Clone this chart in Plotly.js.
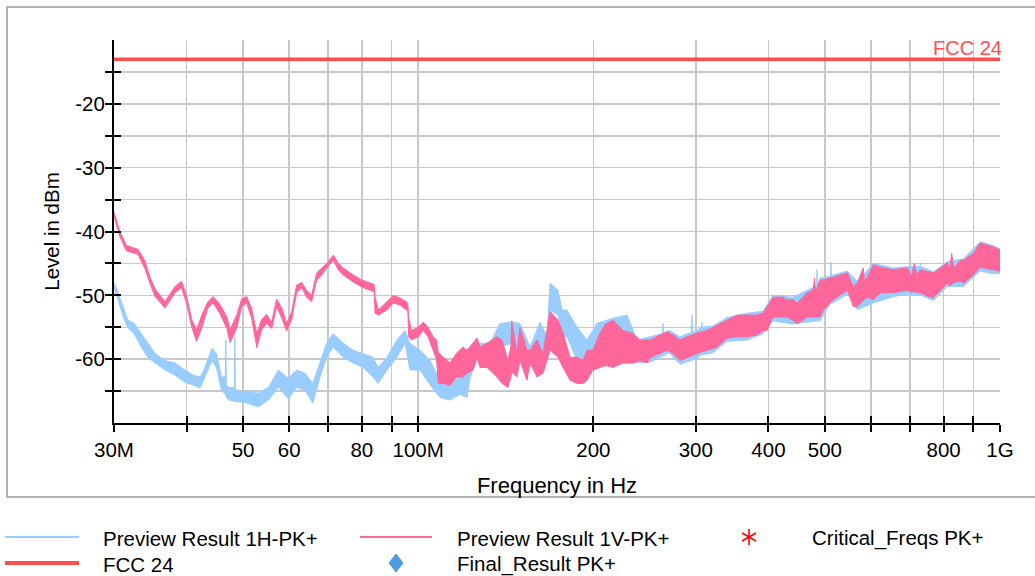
<!DOCTYPE html>
<html>
<head>
<meta charset="utf-8">
<script src="https://cdn.plot.ly/plotly-3.0.1.min.js"></script>
<style>
html,body{margin:0;padding:0;background:#fff;}
#chart{width:1035px;height:576px;}
</style>
</head>
<body>
<div id="chart"></div>
<script>
// ---------- data (frequency in MHz, level in dBm) ----------
// Preview Result 1H-PK+ : envelope of the measured band (upper / lower edge)
const freqH = [30.0,30.5,31.1,31.7,32.5,33.4,34.3,35.3,36.7,38.2,39.7,41.1,42.2,43.0,44.2,45.0,45.9,46.6,46.7,46.8,47.2,48.3,48.4,48.5,49.1,51.0,53.1,55.3,57.5,59.8,61.8,63.9,65.9,67.8,69.6,71.4,74.3,77.3,80.4,83.6,85.3,88.4,91.9,94.9,96.8,100.7,104.8,109.0,113.4,118.0,121.3,122.8,126.2,132.9,138.2,145.0,149.6,155.7,161.9,166.5,168.5,173.9,176.7,180.2,187.5,195.0,202.9,216.2,228.5,237.7,250.0,263.0,263.5,264.0,270.0,281.8,295.0,295.5,296.0,301.4,307.0,307.4,307.8,321.1,339.4,367.4,391.4,407.2,440.7,484.0,484.7,485.4,490.5,511.5,512.3,513.0,516.4,546.7,568.8,606.0,655.9,693.3,729.0,729.9,730.8,768.4,812.0,865.4,924.2,973.0,1000];
const h1Upper = [-48.0,-49.6,-51.8,-53.9,-54.4,-56.0,-57.5,-59.1,-60.2,-60.6,-61.7,-62.5,-62.8,-61.3,-58.3,-59.1,-62.8,-62.8,-57.0,-64.0,-64.4,-64.5,-56.5,-64.8,-64.9,-65.2,-65.3,-64.4,-61.7,-63.0,-61.7,-62.2,-63.8,-60.6,-57.5,-56.0,-57.5,-58.6,-59.1,-59.7,-61.3,-59.7,-57.0,-55.5,-57.5,-58.6,-60.2,-63.3,-63.8,-62.8,-60.5,-59.5,-57.5,-57.5,-54.4,-54.2,-54.4,-58.1,-54.2,-56.5,-48.1,-49.2,-52.3,-52.3,-55.0,-57.0,-54.4,-53.6,-53.1,-57.0,-56.5,-56.0,-54.4,-56.0,-55.5,-56.5,-55.8,-53.1,-55.8,-55.5,-55.0,-54.2,-55.0,-54.8,-53.5,-52.8,-52.5,-50.0,-50.3,-48.5,-46.0,-48.5,-47.3,-47.0,-44.8,-47.0,-46.8,-46.2,-47.8,-45.0,-45.7,-45.5,-45.5,-44.9,-45.5,-46.3,-44.7,-44.3,-41.6,-42.2,-42.7];
const h1Lower = [-48.8,-50.7,-53.4,-55.1,-56.0,-58.1,-59.7,-60.6,-61.7,-62.5,-63.6,-64.1,-64.5,-62.8,-60.2,-61.3,-64.9,-65.5,-65.5,-66.0,-66.4,-66.5,-66.5,-66.6,-66.7,-66.9,-67.5,-66.4,-64.4,-66.2,-64.4,-64.9,-66.9,-62.8,-59.7,-58.1,-59.7,-60.6,-61.3,-62.8,-63.8,-61.7,-59.7,-57.5,-61.7,-61.7,-64.0,-66.0,-66.4,-65.5,-66.0,-63.0,-59.8,-61.7,-58.1,-57.5,-59.1,-61.3,-58.6,-59.7,-52.3,-53.1,-56.5,-56.5,-60.2,-61.3,-61.3,-60.6,-60.6,-60.6,-60.5,-59.5,-59.5,-59.5,-59.0,-60.8,-60.2,-60.2,-60.2,-59.8,-59.3,-59.3,-59.3,-59.0,-57.2,-57.0,-56.0,-54.0,-54.5,-54.0,-54.0,-54.0,-54.0,-51.2,-51.2,-51.2,-51.2,-49.8,-52.2,-51.2,-50.2,-49.8,-50.0,-50.0,-50.0,-50.8,-48.6,-48.6,-46.2,-46.6,-46.6];

// Preview Result 1V-PK+
const freqV = [30.0,30.7,31.5,33.0,33.9,34.6,35.3,36.7,38.2,39.2,40.0,40.8,41.6,42.5,43.5,44.4,45.6,46.9,47.5,48.8,49.7,50.7,51.7,52.8,53.8,54.9,56.0,57.1,58.3,59.4,60.6,61.8,63.1,64.3,65.6,66.9,68.3,69.6,71.5,72.9,74.3,77.3,80.0,82.6,84.0,84.3,85.4,88.3,90.6,93.0,95.5,96.0,96.3,97.4,100.0,102.0,104.0,106.1,107.5,108.3,110.4,113.4,116.5,119.4,121.3,124.2,126.2,127.7,131.3,136.6,139.3,142.7,144.3,144.8,147.8,149.6,153.8,155.7,160.0,163.9,168.5,173.9,177.4,182.4,187.5,192.0,195.0,199.7,205.3,210.0,216.2,224.9,234.0,240.6,247.3,250.3,260.4,267.7,274.1,281.8,289.7,301.4,313.6,321.1,326.3,339.4,353.1,367.4,382.2,391.4,397.7,407.2,423.6,430.4,440.7,447.8,458.5,465.9,477.1,480.0,482.0,490.5,496.3,516.4,546.7,559.9,568.8,582.0,585.0,591.8,606.0,623.0,655.9,693.3,705.0,712.0,718.0,729.9,759.3,768.4,812.0,820.0,826.0,832.0,855.2,865.4,900.3,924.2,973.0,1000];
const v1Upper = [-37.0,-40.0,-42.2,-42.8,-44.6,-47.2,-49.0,-51.0,-48.6,-47.8,-50.2,-53.8,-55.4,-53.0,-51.0,-50.2,-51.4,-53.4,-55.4,-53.0,-50.6,-50.2,-52.0,-56.0,-53.8,-53.0,-54.2,-50.6,-52.0,-54.4,-52.6,-48.4,-48.0,-49.2,-50.0,-46.5,-45.7,-45.0,-43.7,-45.0,-45.7,-46.8,-47.6,-48.1,-48.3,-50.3,-52.3,-51.0,-50.0,-50.4,-51.0,-51.5,-53.5,-55.5,-55.0,-54.2,-55.0,-56.5,-57.0,-59.0,-59.7,-60.6,-59.0,-58.1,-58.6,-57.5,-56.7,-58.1,-57.5,-56.5,-57.0,-60.2,-58.0,-54.0,-59.1,-55.0,-58.6,-58.6,-57.0,-59.1,-52.5,-53.9,-55.9,-59.7,-59.7,-60.2,-58.6,-58.6,-55.9,-54.5,-53.9,-55.5,-56.0,-57.0,-57.0,-57.0,-56.2,-55.7,-56.2,-57.0,-56.5,-55.9,-55.5,-55.0,-54.7,-53.9,-53.1,-53.1,-53.1,-52.8,-51.8,-50.3,-50.3,-50.7,-50.7,-51.2,-50.3,-49.6,-49.2,-47.3,-49.5,-47.6,-47.6,-47.1,-46.5,-48.7,-48.0,-45.7,-47.8,-47.1,-45.2,-45.6,-46.0,-45.7,-47.0,-45.0,-46.8,-46.0,-46.4,-46.5,-44.9,-46.0,-43.4,-45.8,-44.5,-44.5,-43.4,-41.8,-42.4,-42.9];
const v1Lower = [-37.6,-40.8,-43.0,-43.6,-45.8,-48.2,-50.2,-52.0,-49.6,-48.8,-51.3,-55.0,-57.2,-55.0,-52.0,-51.2,-52.8,-55.2,-57.4,-55.0,-51.8,-51.2,-53.5,-58.2,-55.4,-54.4,-55.2,-51.8,-53.6,-55.6,-53.8,-49.6,-48.8,-50.3,-51.0,-47.6,-46.8,-45.7,-44.5,-46.0,-46.8,-47.9,-48.7,-49.2,-49.4,-52.8,-53.1,-52.3,-51.2,-51.5,-52.3,-52.5,-56.5,-57.0,-56.5,-55.5,-56.5,-58.6,-60.0,-63.8,-63.8,-64.1,-62.8,-62.8,-62.2,-61.7,-59.8,-61.3,-61.3,-62.8,-63.8,-64.4,-62.8,-62.0,-62.8,-60.2,-63.3,-60.6,-62.8,-62.2,-58.6,-59.7,-61.3,-63.3,-63.8,-63.8,-63.3,-61.7,-61.3,-61.0,-61.3,-60.6,-60.6,-60.2,-60.6,-59.8,-59.1,-58.6,-59.1,-60.2,-59.8,-59.1,-58.6,-58.3,-58.1,-56.7,-56.5,-56.5,-56.2,-55.5,-55.5,-53.4,-53.4,-53.4,-53.9,-54.4,-53.9,-53.4,-53.4,-53.4,-53.4,-53.4,-52.3,-50.7,-49.2,-51.8,-51.7,-50.8,-50.6,-50.3,-50.7,-49.6,-49.6,-49.2,-49.5,-49.4,-49.5,-49.6,-50.3,-50.3,-48.1,-48.5,-48.3,-48.0,-47.7,-48.1,-46.8,-45.6,-46.0,-46.2];

// FCC 24 limit line
const fccFreq = [30, 1000];
const fccLevel = [-13, -13];

// axis ticks
const xTickVals = [30,40,50,60,70,80,90,100,200,300,400,500,600,700,800,900,1000];
const xTickText = ['30M','','50','60','','80','','100M','200','300','400','500','','','800','','1G'];
const yTickVals = [-65,-60,-55,-50,-45,-40,-35,-30,-25,-20,-15];
const yTickText = ['','-60','','-50','','-40','','-30','','-20',''];

// legend entries
const legendNames = ['Preview Result 1H-PK+','Preview Result 1V-PK+','Critical_Freqs PK+','FCC 24','Final_Result PK+'];

// ---------- styling / layout ----------
const C_H = '#99ccff', C_V = '#ff6699', C_FCC = '#ff4d4d';
const W = 1035, H = 576;
const M = {l:114, r:35, t:40, b:153};
const PW = W - M.l - M.r, PH = H - M.t - M.b;
const px = v => (v - M.l) / PW;        // pixel x -> paper
const py = v => (H - M.b - v) / PH;    // pixel y -> paper
const FONT = 'Liberation Sans, Arial, sans-serif';

function band(f, up, lo, color, name) {
  const x = f.concat(f.slice().reverse());
  const y = up.concat(lo.slice().reverse());
  return {x:x, y:y, type:'scatter', mode:'lines', fill:'toself', fillcolor:color,
          line:{color:color, width:1}, name:name, showlegend:false, hoverinfo:'skip'};
}

const traces = [
  band(freqH, h1Upper, h1Lower, C_H, legendNames[0]),
  band(freqV, v1Upper, v1Lower, C_V, legendNames[1]),
  {x:fccFreq, y:fccLevel, type:'scatter', mode:'lines', line:{color:C_FCC, width:3.5},
   name:legendNames[3], showlegend:false, cliponaxis:false},
  {x:[], y:[], xaxis:'x2', yaxis:'y2', type:'scatter', showlegend:false}
];

const shapes = [];
const annotations = [];
// outer frame
shapes.push({type:'rect', xref:'paper', yref:'paper', x0:px(7), x1:px(1045), y0:py(497), y1:py(7),
             line:{color:'#b3b3b3', width:2}, layer:'below'});
// legend samples
function hline(x0,x1,y,color,w){shapes.push({type:'line',xref:'paper',yref:'paper',x0:px(x0),x1:px(x1),y0:py(y),y1:py(y),line:{color:color,width:w}});}
hline(5,79,537,C_H,2);
hline(5,79,563,C_FCC,4);
hline(360,432,537,C_V,2);
// diamond (Final_Result)
(function(){
  const cx=396, cy=563, hw=7, hh=9;
  shapes.push({type:'path', xref:'paper', yref:'paper',
    path:`M ${px(cx)} ${py(cy-hh)} L ${px(cx+hw)} ${py(cy)} L ${px(cx)} ${py(cy+hh)} L ${px(cx-hw)} ${py(cy)} Z`,
    fillcolor:'#4a9de0', line:{color:'#4a9de0', width:1}});
})();
// asterisk (Critical_Freqs)
(function(){
  const cx=749, cy=537, r=8;
  const angs=[90,30,150];
  angs.forEach(a=>{
    const dx=r*Math.cos(a*Math.PI/180), dy=r*Math.sin(a*Math.PI/180);
    shapes.push({type:'line',xref:'paper',yref:'paper',x0:px(cx-dx),x1:px(cx+dx),y0:py(cy-dy),y1:py(cy+dy),line:{color:'#ff0000',width:1.6}});
  });
})();
// legend texts
function ltext(x,y,t){annotations.push({xref:'paper',yref:'paper',x:px(x),y:py(y),text:t,showarrow:false,
  xanchor:'left',yanchor:'middle',font:{family:FONT,size:20.5,color:'#000'}});}
ltext(101,538,legendNames[0]);
ltext(455,538,legendNames[1]);
ltext(810,538,legendNames[2]);
ltext(101,564,legendNames[3]);
ltext(455,564,legendNames[4]);
// limit label
annotations.push({xref:'x', yref:'y', x:Math.log10(fccFreq[1]), y:fccLevel[1], text:'FCC 24', showarrow:false,
  xanchor:'right', yanchor:'bottom', xshift:4, yshift:-2, font:{family:FONT,size:20,color:C_FCC}});

const xRange = [Math.log10(30), Math.log10(1000)];
const yRange = [-70, -10];

const layout = {
  width:W, height:H, margin:M, paper_bgcolor:'#fff', plot_bgcolor:'#fff',
  showlegend:false,
  font:{family:FONT, size:20, color:'#000'},
  xaxis:{type:'log', range:xRange, tickmode:'array', tickvals:xTickVals, ticktext:xTickText,
    ticks:'outside', ticklen:7, tickwidth:2, tickcolor:'#000', ticklabelstandoff:0,
    showgrid:true, gridcolor:'#c8c8c8', gridwidth:1.5, showline:true, linecolor:'#000', linewidth:2,
    zeroline:false, tickfont:{family:FONT,size:20.5,color:'#000'},
    title:{text:'Frequency in Hz', font:{family:FONT,size:22,color:'#000'}, standoff:18}},
  yaxis:{range:yRange, tickmode:'array', tickvals:yTickVals, ticktext:yTickText,
    ticks:'outside', ticklen:7, tickwidth:2, tickcolor:'#000', ticklabelstandoff:-4,
    showgrid:true, gridcolor:'#c8c8c8', gridwidth:1.5, showline:true, linecolor:'#000', linewidth:2,
    zeroline:false, tickfont:{family:FONT,size:20.5,color:'#000'},
    title:{text:'Level in dBm', font:{family:FONT,size:20.5,color:'#000'}, standoff:10}},
  xaxis2:{type:'log', range:xRange, overlaying:'x', anchor:'y2', side:'bottom', tickmode:'array', tickvals:xTickVals,
    ticks:'inside', ticklen:7, tickwidth:2, tickcolor:'#000', showticklabels:false, showgrid:false,
    showline:false, zeroline:false},
  yaxis2:{range:yRange, overlaying:'y', anchor:'x2', side:'left', tickmode:'array', tickvals:yTickVals,
    ticks:'inside', ticklen:7, tickwidth:2, tickcolor:'#000', showticklabels:false, showgrid:false,
    showline:false, zeroline:false},
  shapes:shapes, annotations:annotations
};

Plotly.newPlot('chart', traces, layout, {displayModeBar:false, staticPlot:true});
</script>
</body>
</html>
